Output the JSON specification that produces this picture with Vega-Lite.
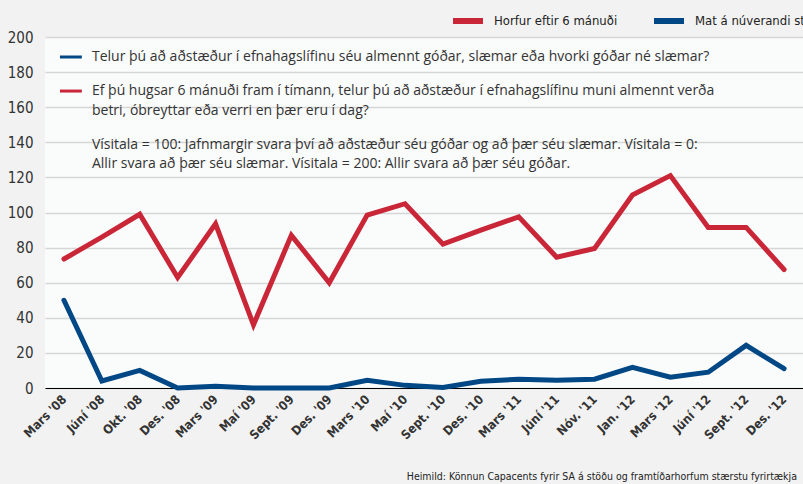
{
  "$schema": "https://vega.github.io/schema/vega-lite/v6.json",
  "width": 758,
  "height": 351,
  "autosize": {"type": "none"},
  "padding": {"left": 45, "top": 37, "right": 0, "bottom": 96},
  "background": "#f2f2f2",
  "config": {
    "view": {"fill": "#fafbfb", "stroke": null},
    "font": "Roboto"
  },
  "title": {
    "text": "Heimild: Könnun Capacents fyrir SA á stöðu og framtíðarhorfum stærstu fyrirtækja",
    "orient": "bottom",
    "anchor": "end",
    "frame": "group",
    "dx": -6,
    "font": "DejaVu Sans Condensed, Roboto",
    "fontSize": 10.5,
    "fontWeight": "normal",
    "color": "#222222",
    "offset": 30
  },
  "datasets": {
    "series": [
      {"date": "Mars '08", "series": "Horfur eftir 6 mánuði", "value": 73.5},
      {"date": "Júní '08", "series": "Horfur eftir 6 mánuði", "value": 86},
      {"date": "Okt. '08", "series": "Horfur eftir 6 mánuði", "value": 99},
      {"date": "Des. '08", "series": "Horfur eftir 6 mánuði", "value": 63},
      {"date": "Mars '09", "series": "Horfur eftir 6 mánuði", "value": 93.5},
      {"date": "Maí '09", "series": "Horfur eftir 6 mánuði", "value": 36},
      {"date": "Sept. '09", "series": "Horfur eftir 6 mánuði", "value": 87},
      {"date": "Des. '09", "series": "Horfur eftir 6 mánuði", "value": 60},
      {"date": "Mars '10", "series": "Horfur eftir 6 mánuði", "value": 98.5},
      {"date": "Maí '10", "series": "Horfur eftir 6 mánuði", "value": 105},
      {"date": "Sept. '10", "series": "Horfur eftir 6 mánuði", "value": 82},
      {"date": "Des. '10", "series": "Horfur eftir 6 mánuði", "value": 90},
      {"date": "Mars '11", "series": "Horfur eftir 6 mánuði", "value": 97.5},
      {"date": "Júní '11", "series": "Horfur eftir 6 mánuði", "value": 74.5},
      {"date": "Nóv. '11", "series": "Horfur eftir 6 mánuði", "value": 79.5},
      {"date": "Jan. '12", "series": "Horfur eftir 6 mánuði", "value": 110},
      {"date": "Mars '12", "series": "Horfur eftir 6 mánuði", "value": 121},
      {"date": "Júní '12", "series": "Horfur eftir 6 mánuði", "value": 91.5},
      {"date": "Sept. '12", "series": "Horfur eftir 6 mánuði", "value": 91.5},
      {"date": "Des. '12", "series": "Horfur eftir 6 mánuði", "value": 67.5},
      {"date": "Mars '08", "series": "Mat á núverandi stöðu", "value": 50},
      {"date": "Júní '08", "series": "Mat á núverandi stöðu", "value": 4},
      {"date": "Okt. '08", "series": "Mat á núverandi stöðu", "value": 10},
      {"date": "Des. '08", "series": "Mat á núverandi stöðu", "value": 0},
      {"date": "Mars '09", "series": "Mat á núverandi stöðu", "value": 1},
      {"date": "Maí '09", "series": "Mat á núverandi stöðu", "value": 0},
      {"date": "Sept. '09", "series": "Mat á núverandi stöðu", "value": 0},
      {"date": "Des. '09", "series": "Mat á núverandi stöðu", "value": 0},
      {"date": "Mars '10", "series": "Mat á núverandi stöðu", "value": 4.4},
      {"date": "Maí '10", "series": "Mat á núverandi stöðu", "value": 1.5},
      {"date": "Sept. '10", "series": "Mat á núverandi stöðu", "value": 0.3},
      {"date": "Des. '10", "series": "Mat á núverandi stöðu", "value": 3.8},
      {"date": "Mars '11", "series": "Mat á núverandi stöðu", "value": 5},
      {"date": "Júní '11", "series": "Mat á núverandi stöðu", "value": 4.4},
      {"date": "Nóv. '11", "series": "Mat á núverandi stöðu", "value": 5},
      {"date": "Jan. '12", "series": "Mat á núverandi stöðu", "value": 11.8},
      {"date": "Mars '12", "series": "Mat á núverandi stöðu", "value": 6.2},
      {"date": "Júní '12", "series": "Mat á núverandi stöðu", "value": 9},
      {"date": "Sept. '12", "series": "Mat á núverandi stöðu", "value": 24.3},
      {"date": "Des. '12", "series": "Mat á núverandi stöðu", "value": 11}
    ],
    "notes": [
      {"date": "Mars '08", "value": 188.6, "text": "Telur þú að aðstæður í efnahagslífinu séu almennt góðar, slæmar eða hvorki góðar né slæmar?"},
      {"date": "Mars '08", "value": 169.2, "text": "Ef þú hugsar 6 mánuði fram í tímann, telur þú að aðstæður í efnahagslífinu muni almennt verða"},
      {"date": "Mars '08", "value": 157.8, "text": "betri, óbreyttar eða verri en þær eru í dag?"},
      {"date": "Mars '08", "value": 138.5, "text": "Vísitala = 100: Jafnmargir svara  því að aðstæður séu góðar og að þær séu slæmar. Vísitala = 0:"},
      {"date": "Mars '08", "value": 127.6, "text": "Allir svara að þær séu slæmar. Vísitala = 200: Allir svara að þær séu góðar."}
    ],
    "swatches": [
      {"from": "Mars '08", "to": "Júní '08", "value": 188.6, "series": "Mat á núverandi stöðu"},
      {"from": "Mars '08", "to": "Júní '08", "value": 169.2, "series": "Horfur eftir 6 mánuði"}
    ]
  },
  "encoding": {
    "x": {
      "field": "date",
      "type": "ordinal",
      "scale": {
        "type": "point",
        "padding": 0.5,
        "domain": ["Mars '08", "Júní '08", "Okt. '08", "Des. '08", "Mars '09", "Maí '09", "Sept. '09", "Des. '09", "Mars '10", "Maí '10", "Sept. '10", "Des. '10", "Mars '11", "Júní '11", "Nóv. '11", "Jan. '12", "Mars '12", "Júní '12", "Sept. '12", "Des. '12"]
      },
      "axis": {
        "title": null,
        "labelAngle": -45,
        "labelAlign": "right",
        "labelBaseline": "middle",
        "labelFont": "DejaVu Sans Condensed, Roboto",
        "labelFontWeight": "bold",
        "labelFontSize": 12.5,
        "labelColor": "#333333",
        "labelPadding": 9,
        "ticks": false,
        "domainColor": "#000000",
        "domainWidth": 1,
        "grid": false
      }
    },
    "y": {
      "field": "value",
      "type": "quantitative",
      "scale": {"domain": [0, 200], "nice": false},
      "axis": {
        "title": null,
        "values": [0, 20, 40, 60, 80, 100, 120, 140, 160, 180, 200],
        "labelFont": "DejaVu Sans Condensed, Roboto",
        "labelFontSize": 15,
        "labelColor": "#333333",
        "labelPadding": 12,
        "ticks": false,
        "domain": false,
        "gridColor": "#d6d6d6",
        "gridWidth": 1.5
      }
    }
  },
  "layer": [
    {
      "data": {"name": "series"},
      "mark": {"type": "line", "strokeWidth": 5, "strokeJoin": "miter", "strokeCap": "round"},
      "encoding": {
        "color": {
          "field": "series",
          "type": "nominal",
          "scale": {
            "domain": ["Horfur eftir 6 mánuði", "Mat á núverandi stöðu"],
            "range": ["#c92638", "#004785"]
          },
          "legend": {
            "title": null,
            "orient": "none",
            "legendX": 405,
            "legendY": -34,
            "direction": "horizontal",
            "symbolType": "stroke",
            "symbolStrokeWidth": 6,
            "symbolSize": 900,
            "labelFont": "DejaVu Sans Condensed, Roboto",
            "labelFontSize": 13,
            "labelColor": "#222222",
            "columnPadding": 24,
            "labelOffset": 8
          }
        }
      }
    },
    {
      "data": {"name": "swatches"},
      "mark": {"type": "rule", "strokeWidth": 3, "xOffset": -4, "x2Offset": -20},
      "encoding": {
        "x": {"field": "from", "type": "ordinal"},
        "x2": {"field": "to"},
        "color": {"field": "series", "type": "nominal", "legend": null}
      }
    },
    {
      "data": {"name": "notes"},
      "mark": {"type": "text", "align": "left", "baseline": "middle", "dx": 28, "fontSize": 14, "color": "#333333", "font": "Open Sans"},
      "encoding": {
        "text": {"field": "text"}
      }
    }
  ]
}
